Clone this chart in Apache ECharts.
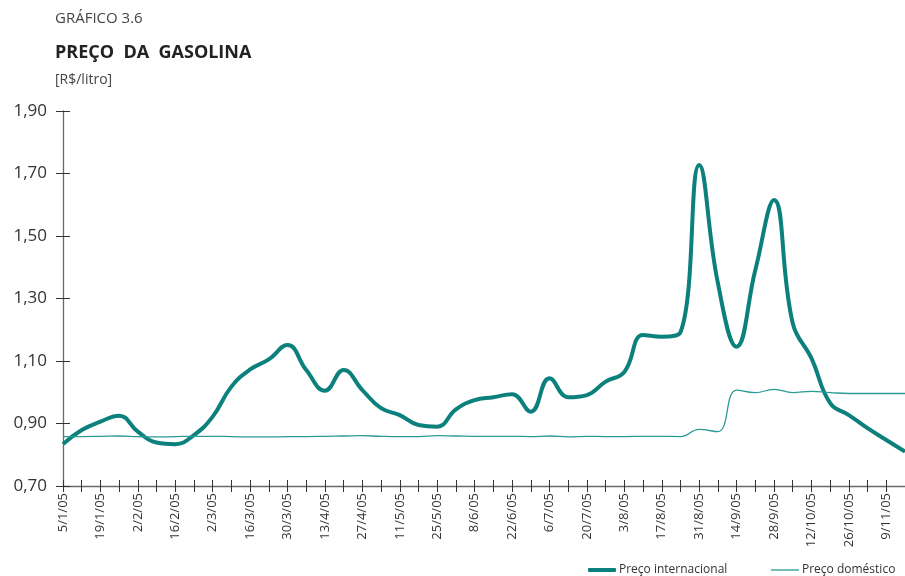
<!DOCTYPE html>
<html>
<head>
<meta charset="utf-8">
<script src="https://cdn.jsdelivr.net/npm/echarts@6/dist/echarts.min.js"></script>
<style>
  html, body { margin: 0; padding: 0; background: #fff; }
  #chart { width: 905px; height: 576px; }
</style>
</head>
<body>
<div id="chart"></div>
<script>
// semanas de 2005
const weeks = [
  "5/1/05", "12/1/05", "19/1/05", "26/1/05", "2/2/05", "9/2/05", "16/2/05", "23/2/05",
  "2/3/05", "9/3/05", "16/3/05", "23/3/05", "30/3/05", "6/4/05", "13/4/05", "20/4/05",
  "27/4/05", "4/5/05", "11/5/05", "18/5/05", "25/5/05", "1/6/05", "8/6/05", "15/6/05",
  "22/6/05", "29/6/05", "6/7/05", "13/7/05", "20/7/05", "27/7/05", "3/8/05", "10/8/05",
  "17/8/05", "24/8/05", "31/8/05", "7/9/05", "14/9/05", "21/9/05", "28/9/05", "5/10/05",
  "12/10/05", "19/10/05", "26/10/05", "2/11/05", "9/11/05", "16/11/05"
]
const precoInternacional = [
  0.834, 0.879, 0.906, 0.925, 0.874, 0.839, 0.834, 0.863,
  0.922, 1.018, 1.073, 1.105, 1.151, 1.071, 1.005, 1.071,
  1.007, 0.949, 0.927, 0.895, 0.890, 0.945, 0.975, 0.984,
  0.994, 0.938, 1.045, 0.984, 0.991, 1.034, 1.065, 1.183,
  1.178, 1.192, 1.727, 1.349, 1.146, 1.391, 1.615, 1.221,
  1.109, 0.965, 0.927, 0.885, 0.847, 0.810
]
const precoDomestico = [
  0.858, 0.858, 0.859, 0.860, 0.858, 0.857, 0.858, 0.859,
  0.859, 0.858, 0.857, 0.857, 0.858, 0.858, 0.859, 0.860,
  0.861, 0.859, 0.858, 0.858, 0.861, 0.860, 0.859, 0.859,
  0.859, 0.858, 0.860, 0.857, 0.859, 0.858, 0.858, 0.859,
  0.859, 0.858, 0.881, 0.874, 1.007, 0.999, 1.009, 0.999,
  1.003, 0.999, 0.996, 0.996, 0.996, 0.996
]
const yTicks = [0.7, 0.9, 1.1, 1.3, 1.5, 1.7, 1.9]

const font = "'Open Sans', 'Noto Sans', sans-serif"
const axisGray = "#6b6b6b"
const corInter = "#0b807c"
const corDom = "#2a9a96"

const chart = echarts.init(document.getElementById("chart"))
chart.setOption({
  animation: false,
  textStyle: { fontFamily: font },
  title: [
    { text: "GRÁFICO 3.6", left: 50, top: 6,
      textStyle: { fontSize: 15, fontWeight: "normal", color: "#444", fontFamily: "'Liberation Sans Narrow', " + font } },
    { text: "PREÇO  DA  GASOLINA", left: 50, top: 39,
      textStyle: { fontSize: 18, fontWeight: "bold", color: "#222" } },
    { text: "[R$/litro]", left: 50, top: 68,
      textStyle: { fontSize: 14, fontWeight: "normal", color: "#444" } }
  ],
  legend: [
    {
      left: 588, bottom: 0, padding: 0, icon: "roundRect",
      itemWidth: 28, itemHeight: 4,
      textStyle: { fontSize: 12, color: "#333", padding: [0, 0, 0, -2] },
      data: ["Preço internacional"]
    },
    {
      left: 771, bottom: 0, padding: 0, icon: "rect",
      itemWidth: 28, itemHeight: 1.3,
      textStyle: { fontSize: 12, color: "#333", padding: [0, 0, 0, -2] },
      data: ["Preço doméstico"]
    }
  ],
  grid: { left: 63, right: 0, top: 111, bottom: 90 },
  xAxis: [
    {
      type: "category", data: weeks, boundaryGap: false,
      axisLine: { lineStyle: { color: axisGray, width: 1.3 } },
      axisTick: { interval: 0, length: 6, lineStyle: { color: "#333" } },
      axisLabel: { interval: 1, rotate: 90, fontSize: 13, color: "#333", margin: 7 }
    },
    {
      type: "category", data: weeks, boundaryGap: false, position: "bottom",
      axisLine: { show: false },
      axisTick: { interval: 0, inside: true, length: 6, lineStyle: { color: "#333" } },
      axisLabel: { show: false }
    }
  ],
  yAxis: [
    {
      type: "value", min: 0.7, max: 1.9, interval: 0.2,
      axisLine: { show: true, lineStyle: { color: axisGray, width: 1.3 } },
      axisTick: { show: true, length: 7, lineStyle: { color: "#333" } },
      splitLine: { show: false },
      axisLabel: {
        fontSize: 17, color: "#333", margin: 16,
        formatter: v => yTicks.some(t => Math.abs(t - v) < 1e-6) ? v.toFixed(2).replace(".", ",") : ""
      }
    },
    {
      type: "value", min: 0.7, max: 1.9, interval: 0.2, position: "left",
      axisLine: { show: false },
      axisTick: { show: true, inside: true, length: 7, lineStyle: { color: "#333" } },
      splitLine: { show: false },
      axisLabel: { show: false }
    }
  ],
  series: [
    {
      name: "Preço internacional", type: "line", data: precoInternacional,
      smooth: 0.45, symbol: "none",
      lineStyle: { width: 4, color: corInter },
      itemStyle: { color: corInter }
    },
    {
      name: "Preço doméstico", type: "line", data: precoDomestico,
      smooth: 0.45, symbol: "none",
      lineStyle: { width: 1.3, color: corDom },
      itemStyle: { color: corDom }
    }
  ]
})
</script>
</body>
</html>
